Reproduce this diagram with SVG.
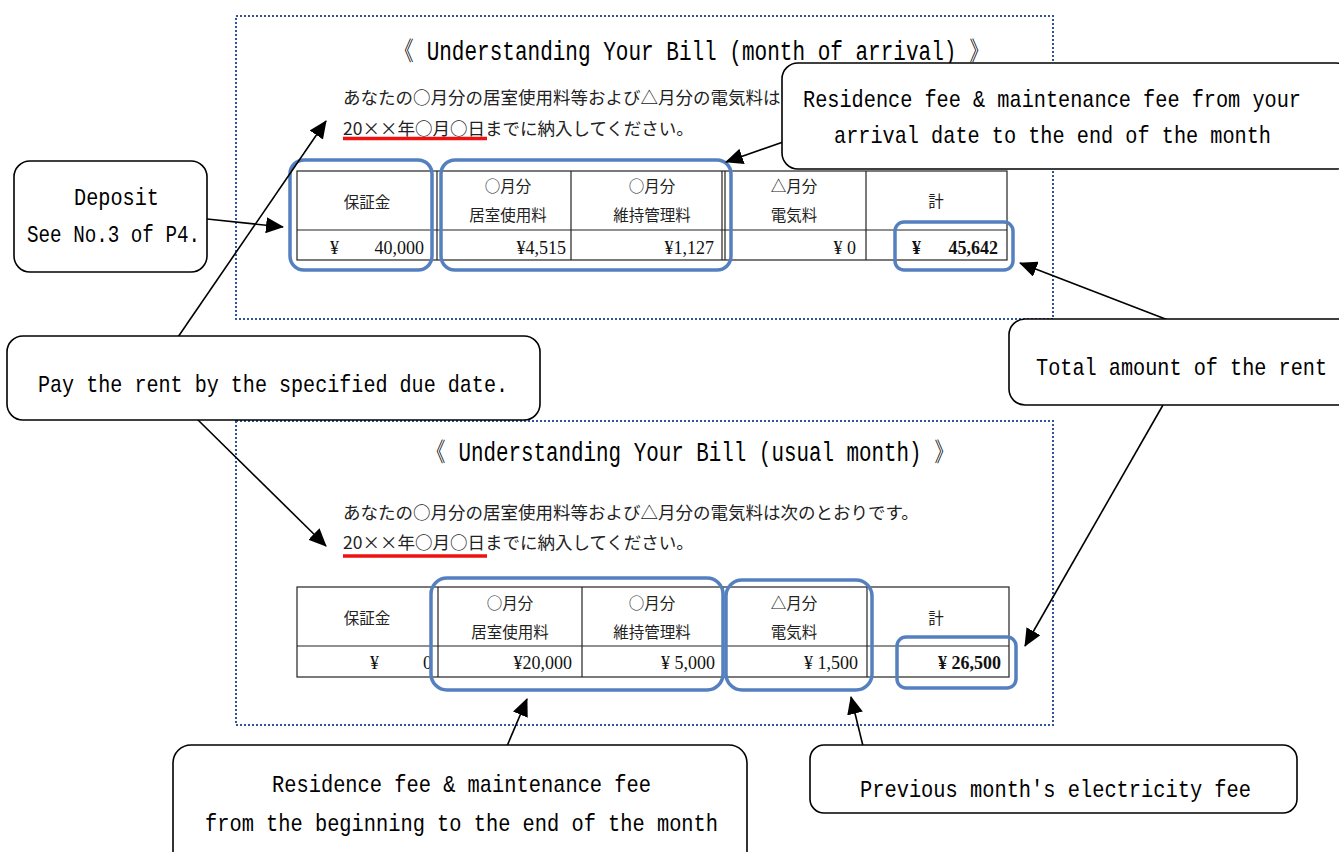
<svg xmlns="http://www.w3.org/2000/svg" width="1339" height="852" viewBox="0 0 1339 852">
<style>
.dot{fill:none;stroke:#2f5597;stroke-width:2;stroke-dasharray:2 2}
.tbl{fill:none;stroke:#222;stroke-width:1.2}
.blue{fill:none;stroke:#5580c0;stroke-width:3.5}
.call{fill:#fff;stroke:#000;stroke-width:1.6}
.en{font-family:"Liberation Mono","DejaVu Sans Mono",monospace;font-size:24px;fill:#000}
.ti{font-family:"Liberation Mono","DejaVu Sans Mono",monospace;font-size:27px;fill:#000}
.jp{font-family:"Noto Sans CJK JP",sans-serif;font-size:17.5px;fill:#222}
.tj{font-family:"Noto Sans CJK JP",sans-serif;font-size:15.5px;fill:#222;text-anchor:middle}
.num{font-family:"Liberation Serif",serif;font-size:18px;fill:#111}
.bnum{font-family:"Liberation Serif",serif;font-size:18px;font-weight:bold;fill:#111}
.con{stroke:#000;stroke-width:1.6;fill:none}
.red{stroke:#ee1111;stroke-width:3.5}
</style>
<defs>
<marker id="ah" markerUnits="userSpaceOnUse" markerWidth="20" markerHeight="16" refX="17" refY="8" orient="auto">
<path d="M0,0 L18,8 L0,16 Z" fill="#000"/>
</marker>
</defs>
<rect width="1339" height="852" fill="#fff"/>

<g id="panel-arrival">
<rect class="dot" x="236" y="16" width="817" height="303"/>
<text class="ti" x="393" y="60" textLength="597" lengthAdjust="spacingAndGlyphs">《 Understanding Your Bill (month of arrival) 》</text>
<text class="jp" x="343" y="104">あなたの○月分の居室使用料等および△月分の電気料は</text>
<text class="jp" x="343" y="135">20××年○月○日までに納入してください。</text>
<line class="red" x1="343" y1="138.5" x2="487" y2="138.5"/>
<rect class="tbl" x="297" y="171" width="710" height="89"/>
<line class="tbl" x1="297" y1="230" x2="1007" y2="230"/>
<line class="tbl" x1="437" y1="171" x2="437" y2="260"/>
<line class="tbl" x1="571" y1="171" x2="571" y2="260"/>
<line class="tbl" x1="722" y1="171" x2="722" y2="260"/>
<line class="tbl" x1="725" y1="171" x2="725" y2="260"/>
<line class="tbl" x1="866" y1="171" x2="866" y2="260"/>
<text class="tj" x="367" y="208">保証金</text>
<text class="tj" x="508" y="192">○月分</text>
<text class="tj" x="508" y="221">居室使用料</text>
<text class="tj" x="652" y="192">○月分</text>
<text class="tj" x="652" y="221">維持管理料</text>
<text class="tj" x="794" y="192">△月分</text>
<text class="tj" x="794" y="221">電気料</text>
<text class="tj" x="936" y="207">計</text>
<text class="num" x="330" y="254">¥</text>
<text class="num" x="424" y="254" text-anchor="end">40,000</text>
<text class="num" x="566" y="254" text-anchor="end">¥4,515</text>
<text class="num" x="714" y="254" text-anchor="end">¥1,127</text>
<text class="num" x="856" y="254" text-anchor="end">¥ 0</text>
<text class="bnum" x="912" y="254">¥</text>
<text class="bnum" x="998" y="254" text-anchor="end">45,642</text>
<rect class="blue" x="290" y="160" width="142" height="110" rx="14"/>
<rect class="blue" x="441" y="160" width="290" height="110" rx="14"/>
<rect class="blue" x="895" y="222" width="118" height="48" rx="9"/>
</g>

<g id="panel-usual">
<rect class="dot" x="236" y="421" width="817" height="304"/>
<text class="ti" x="425" y="461" textLength="530" lengthAdjust="spacingAndGlyphs">《 Understanding Your Bill (usual month) 》</text>
<text class="jp" x="343" y="519">あなたの○月分の居室使用料等および△月分の電気料は次のとおりです。</text>
<text class="jp" x="343" y="549">20××年○月○日までに納入してください。</text>
<line class="red" x1="343" y1="556" x2="487" y2="556"/>
<rect class="tbl" x="297" y="587" width="712" height="90"/>
<line class="tbl" x1="297" y1="646" x2="1009" y2="646"/>
<line class="tbl" x1="438" y1="587" x2="438" y2="677"/>
<line class="tbl" x1="582" y1="587" x2="582" y2="677"/>
<line class="tbl" x1="723" y1="587" x2="723" y2="677"/>
<line class="tbl" x1="867" y1="587" x2="867" y2="677"/>
<text class="tj" x="367" y="624">保証金</text>
<text class="tj" x="510" y="609">○月分</text>
<text class="tj" x="510" y="638">居室使用料</text>
<text class="tj" x="652" y="609">○月分</text>
<text class="tj" x="652" y="638">維持管理料</text>
<text class="tj" x="794" y="609">△月分</text>
<text class="tj" x="794" y="638">電気料</text>
<text class="tj" x="936" y="624">計</text>
<text class="num" x="370" y="669">¥</text>
<text class="num" x="432" y="669" text-anchor="end">0</text>
<text class="num" x="572" y="669" text-anchor="end">¥20,000</text>
<text class="num" x="715" y="669" text-anchor="end">¥ 5,000</text>
<text class="num" x="858" y="669" text-anchor="end">¥ 1,500</text>
<text class="bnum" x="1001" y="669" text-anchor="end">¥ 26,500</text>
<rect class="blue" x="431" y="578" width="292" height="112" rx="16"/>
<rect class="blue" x="726" y="580" width="146" height="110" rx="16"/>
<rect class="blue" x="897" y="637" width="119" height="51" rx="9"/>
</g>

<g id="connectors">
<line class="con" x1="207" y1="219" x2="283" y2="227" marker-end="url(#ah)"/>
<line class="con" x1="178" y1="337" x2="326" y2="121" marker-end="url(#ah)"/>
<line class="con" x1="197" y1="419" x2="326" y2="546" marker-end="url(#ah)"/>
<line class="con" x1="786" y1="141" x2="726" y2="162" marker-end="url(#ah)"/>
<line class="con" x1="1168" y1="320" x2="1020" y2="263" marker-end="url(#ah)"/>
<line class="con" x1="1163" y1="405" x2="1025" y2="646" marker-end="url(#ah)"/>
<line class="con" x1="507" y1="746" x2="527" y2="699" marker-end="url(#ah)"/>
<line class="con" x1="863" y1="746" x2="851" y2="697" marker-end="url(#ah)"/>
</g>

<g id="callout-residence-arrival">
<rect class="call" x="782" y="63" width="570" height="106" rx="16"/>
<text class="en" x="803" y="107" textLength="498" lengthAdjust="spacingAndGlyphs">Residence fee &amp; maintenance fee from your</text>
<text class="en" x="834" y="143" textLength="437" lengthAdjust="spacingAndGlyphs">arrival date to the end of the month</text>
</g>

<g id="callout-deposit">
<rect class="call" x="14" y="161" width="193" height="111" rx="16"/>
<text class="en" x="74" y="205" textLength="85" lengthAdjust="spacingAndGlyphs">Deposit</text>
<text class="en" x="27" y="242" textLength="173" lengthAdjust="spacingAndGlyphs">See No.3 of P4.</text>
</g>

<g id="callout-pay">
<rect class="call" x="7" y="336" width="533" height="84" rx="16"/>
<text class="en" x="38" y="392" textLength="470" lengthAdjust="spacingAndGlyphs">Pay the rent by the specified due date.</text>
</g>

<g id="callout-total">
<rect class="call" x="1009" y="319" width="345" height="86" rx="16"/>
<text class="en" x="1036" y="375" textLength="291" lengthAdjust="spacingAndGlyphs">Total amount of the rent</text>
</g>

<g id="callout-residence-usual">
<rect class="call" x="173" y="745" width="574" height="125" rx="18"/>
<text class="en" x="272" y="792" textLength="379" lengthAdjust="spacingAndGlyphs">Residence fee &amp; maintenance fee</text>
<text class="en" x="205" y="831" textLength="513" lengthAdjust="spacingAndGlyphs">from the beginning to the end of the month</text>
</g>

<g id="callout-electricity">
<rect class="call" x="810" y="745" width="487" height="68" rx="14"/>
<text class="en" x="860" y="797" textLength="391" lengthAdjust="spacingAndGlyphs">Previous month's electricity fee</text>
</g>
</svg>
